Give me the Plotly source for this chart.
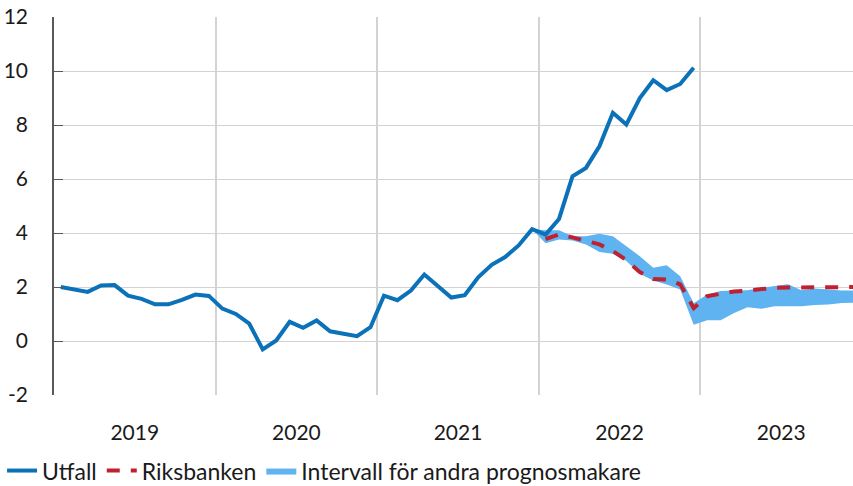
import plotly.graph_objects as go

# monthly categories, Jan 2019 - Dec 2023
years = ["2019", "2020", "2021", "2022", "2023"]
months = [f"{y}-{m:02d}" for y in years for m in range(1, 13)]
pos = list(range(len(months)))

# Utfall (KPIF), Jan 2019 - Dec 2022
utfall = [2.0, 1.92, 1.82, 2.06, 2.07, 1.68, 1.56, 1.36, 1.36, 1.52, 1.72, 1.67,
          1.2, 1.0, 0.64, -0.31, 0.02, 0.71, 0.49, 0.76, 0.36, 0.27, 0.18, 0.51,
          1.68, 1.51, 1.87, 2.46, 2.05, 1.61, 1.70, 2.36, 2.82, 3.11, 3.54, 4.14,
          3.94, 4.52, 6.10, 6.41, 7.21, 8.45, 8.02, 9.0, 9.66, 9.29, 9.52, 10.12]

# Riksbanken forecast, Jan 2022 - Dec 2023
riksbanken = [3.77, 3.95, 3.84, 3.72, 3.58, 3.33, 3.0, 2.55, 2.3, 2.28, 2.1, 1.22,
              1.66, 1.75, 1.83, 1.87, 1.93, 1.97, 1.98, 1.98, 1.99, 2.0, 2.0, 2.0]

# interval for other forecasters, Dec 2021 - Dec 2023
band_low = [4.14, 3.62, 3.76, 3.72, 3.57, 3.30, 3.23, 2.96, 2.49, 2.24, 2.09, 1.91, 0.6,
            0.77, 0.77, 1.04, 1.25, 1.19, 1.29, 1.29, 1.29, 1.33, 1.35, 1.41, 1.42]
band_high = [4.14, 4.1, 4.1, 3.88, 3.88, 3.97, 3.88, 3.51, 3.14, 2.71, 2.81, 2.40, 1.4,
             1.72, 1.85, 1.87, 1.88, 1.97, 2.03, 2.10, 1.88, 1.94, 1.91, 1.87, 1.87]

x_utfall = pos[:len(utfall)]
x_riks = pos[36:36 + len(riksbanken)]
x_band = pos[35:35 + len(band_low)]

blue = "#0B71B8"
red = "#BF2131"
band_color = "#5FB3F1"
grid = "#D3D3D3"

fig = go.Figure()

fig.add_trace(go.Scatter(x=x_band, y=band_low, mode='lines', line=dict(width=0, color=band_color),
                         showlegend=False, hoverinfo='skip'))
fig.add_trace(go.Scatter(x=x_band, y=band_high, mode='lines', line=dict(width=0, color=band_color),
                         fill='tonexty', fillcolor=band_color,
                         name='Intervall för andra prognosmakare', legendrank=3))
fig.add_trace(go.Scatter(x=x_riks, y=riksbanken, mode='lines',
                         line=dict(color=red, width=4, dash='13px,11px'),
                         name='Riksbanken', legendrank=2))
fig.add_trace(go.Scatter(x=x_utfall, y=utfall, mode='lines',
                         line=dict(color=blue, width=4),
                         name='Utfall', legendrank=1))

yt = [-2, 0, 2, 4, 6, 8, 10, 12]
fig.update_layout(
    width=853, height=486,
    margin=dict(l=54, r=0, t=17, b=91, autoexpand=False),
    plot_bgcolor='white', paper_bgcolor='white',
    font=dict(family='Lato', size=21, color='#1a1a1a'),
    xaxis=dict(range=[-0.5, 58.83], tickmode='array',
               tickvals=[5.5, 17.5, 29.5, 41.5, 53.5], ticktext=years,
               showgrid=False, zeroline=False, showline=False, ticks='',
               ticklabelstandoff=23, automargin=False,
               minor=dict(tickmode='array', tickvals=[11.5, 23.5, 35.5, 47.5],
                          showgrid=True, gridcolor=grid, gridwidth=1.5)),
    yaxis=dict(range=[-2, 12], tickmode='array', tickvals=yt,
               ticktext=[str(v) for v in yt],
               showgrid=True, gridcolor=grid, gridwidth=1.3, zeroline=False,
               showline=True, linecolor='#595959', linewidth=1.5,
               ticks='inside', ticklen=9, tickcolor='#595959', tickwidth=1.3,
               ticklabelstandoff=20, automargin=False),
    legend=dict(orientation='h', x=-0.065, xanchor='left', y=-0.2, yanchor='middle',
                font=dict(size=23), itemwidth=30, tracegroupgap=0, traceorder='normal'),
    showlegend=True,
)

fig.write_html("out.html", config={'displayModeBar': False},
               post_script="document.body.style.margin='0';")
